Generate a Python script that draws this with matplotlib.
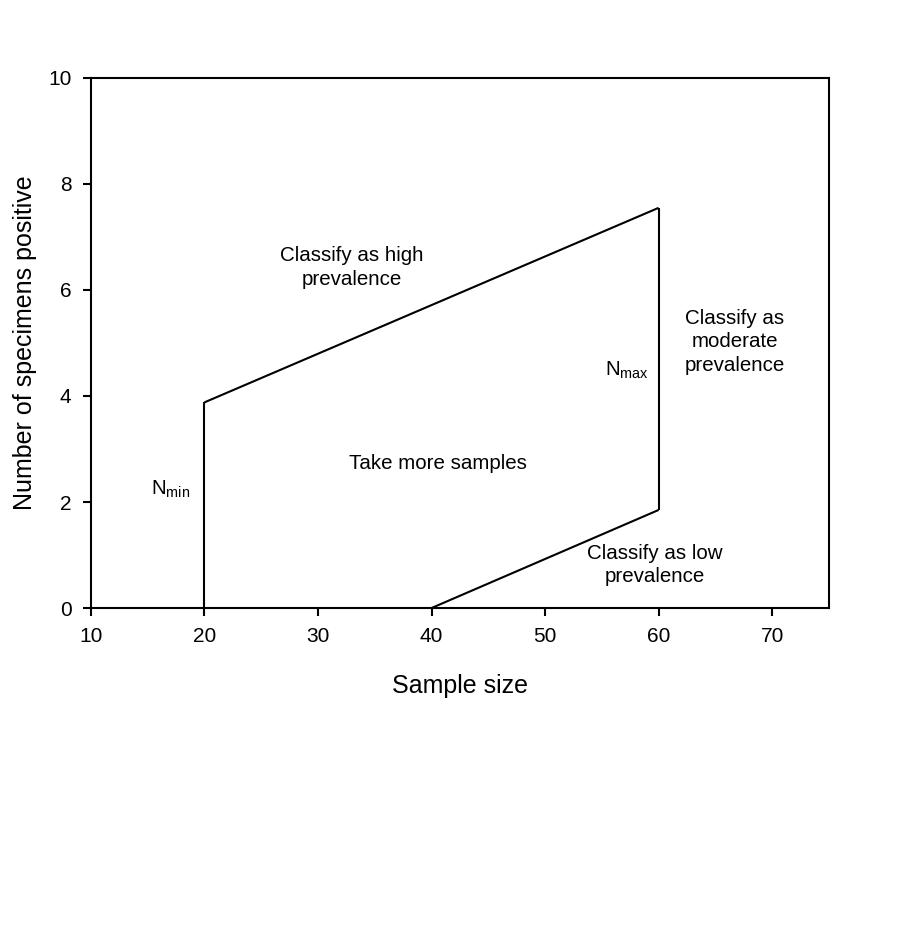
import matplotlib
matplotlib.use("Agg")
import matplotlib.pyplot as plt

plt.rcParams["font.family"] = ["Liberation Sans", "DejaVu Sans"]
plt.rcParams["mathtext.fontset"] = "custom"
plt.rcParams["mathtext.rm"] = "Liberation Sans"
plt.rcParams["mathtext.it"] = "Liberation Sans"

# decision boundaries (sample size, number positive)
upper_x = [20, 60]
upper_y = [3.88, 7.55]
lower_x = [40, 60]
lower_y = [0.0, 1.85]
nmin_x = [20, 20]
nmin_y = [0.0, 3.88]
nmax_x = [60, 60]
nmax_y = [1.85, 7.55]

# region labels: (text, x, y)
labels = [
    ("Classify as high\nprevalence", 33.0, 6.42),
    ("Classify as\nmoderate\nprevalence", 66.7, 5.02),
    ("Take more samples", 40.6, 2.72),
    ("Classify as low\nprevalence", 59.7, 0.81),
    ("$\\mathrm{N}_{\\mathrm{min}}$", 17.0, 2.23),
    ("$\\mathrm{N}_{\\mathrm{max}}$", 57.2, 4.49),
]

fig = plt.figure(figsize=(8.97, 9.27), dpi=100)
ax = fig.add_axes([0.1014, 0.3441, 0.8227, 0.5718])

for xs, ys in [(upper_x, upper_y), (lower_x, lower_y), (nmin_x, nmin_y), (nmax_x, nmax_y)]:
    ax.plot(xs, ys, color="black", lw=1.5, solid_capstyle="butt")

for txt, x, y in labels:
    ax.text(x, y, txt, ha="center", va="center", fontsize=14.8, linespacing=1.3)

ax.set_xlim(10, 75)
ax.set_ylim(0, 10)
ax.set_xticks([10, 20, 30, 40, 50, 60, 70])
ax.set_yticks([0, 2, 4, 6, 8, 10])
ax.tick_params(direction="out", length=6, width=1.5, labelsize=15, pad=8)
for s in ax.spines.values():
    s.set_linewidth(1.5)

ax.set_xlabel("Sample size", fontsize=18, labelpad=20)
ax.set_ylabel("Number of specimens positive", fontsize=18, labelpad=8)

fig.savefig("out.png", dpi=100)
